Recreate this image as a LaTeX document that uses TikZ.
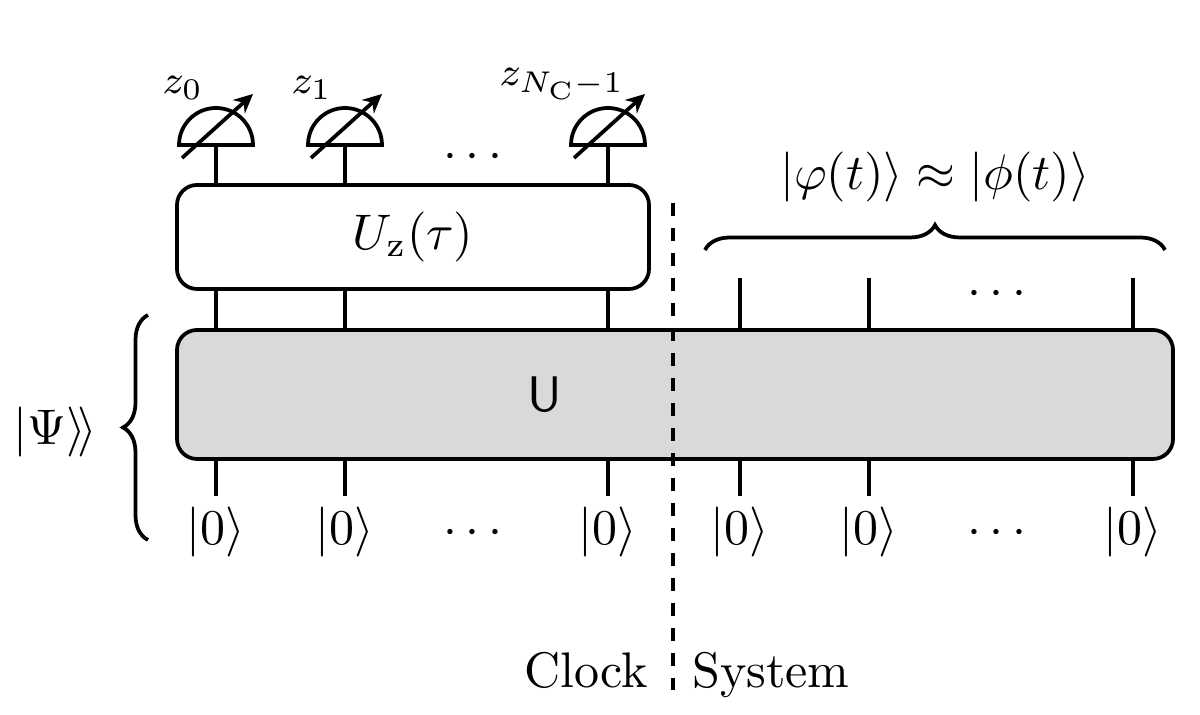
\documentclass[tikz,border=0pt,10pt]{standalone}
\usetikzlibrary{arrows.meta,decorations.pathreplacing,calc}
\begin{document}
\begin{tikzpicture}[x=0.2pt,y=-0.2pt,line width=0.75pt,
  gatebox/.style={draw,rounded corners=4pt,inner sep=0pt},
  ketlbl/.style={inner sep=1.8pt},
  wire/.style={line width=0.75pt},
  mlabel/.style={font=\fontsize{8}{9.6}\selectfont},
  bracedec/.style={decorate,decoration={brace,amplitude=5pt}},
  meterarrow/.style={-{Stealth[length=3.8pt,width=3.6pt]}}]
\useasboundingbox (0,0) rectangle (1200,715);
% boxes
\node[gatebox,fill=white,minimum width=94.4pt,minimum height=20.8pt] (Uz) at (413,237) {$U_{\mathrm{z}}(\tau)$};
\node[gatebox,fill=gray!30,minimum width=199.2pt,minimum height=25.8pt] (U) at (675,394.5) {};
\node (Ulbl) at (545,395) {\textsf{U}};
% meters
\foreach \n/\x in {0/216,1/345,2/608}{
  \coordinate (m\n) at (\x,145);
  \draw (m\n) ++(-7.4pt,0) arc[start angle=180,end angle=0,radius=7.4pt] -- cycle;
  \draw[meterarrow] ($(m\n)+(-34,13)$) -- ($(m\n)+(37,-51)$);
  \draw[wire] (m\n) -- (m\n |- Uz.north);
  \draw[wire] (Uz.south -| m\n) -- (U.north -| m\n);
}
\node[mlabel] (z0) at (183,88) {$z_0$};
\node[mlabel] (z1) at (312,88) {$z_1$};
\node[mlabel] (z2) at (562,84) {$z_{N_{\mathrm{C}}-1}$};
\node[anchor=base] (dtopc) at (473,168.5) {$\cdots$};
% system top wires
\foreach \n/\x in {0/740,1/869,2/1133}{
  \coordinate (s\n) at (\x,278);
  \draw[wire] (s\n) -- (s\n |- U.north);
}
\node[anchor=base] (dtops) at (997,305.5) {$\cdots$};
% kets
\foreach \n/\x in {0/216,1/345,2/608,3/740,4/869,5/1133}{
  \node[ketlbl,anchor=base] (k\n) at (\x,544.5) {$|0\rangle$};
  \draw[wire] (U.south -| k\n) -- (k\n.north);
}
\node[anchor=base] (dbc) at (473,544.5) {$\cdots$};
\node[anchor=base] (dbs) at (997,544.5) {$\cdots$};
% braces
\coordinate (bl) at (705,250);
\coordinate (br) at (1165,250);
\draw[bracedec] (bl) -- (br);
\node (phil) at (935,177) {$|\varphi(t)\rangle \approx |\phi(t)\rangle$};
\coordinate (lb1) at (148,540);
\coordinate (lb2) at (148,315);
\draw[bracedec] (lb1) -- (lb2);
\node (psil) at (55,432) {$|\Psi\rangle\!\rangle$};
% divider
\coordinate (dt) at (673,203);
\coordinate (db) at (673,690);
\draw[line width=0.8pt,dash pattern=on 2.7pt off 2.3pt] (dt) -- (db);
\node[anchor=base] (clk) at (586,688) {Clock};
\node[anchor=base] (sys) at (771,688) {System};
\end{tikzpicture}
\end{document}
